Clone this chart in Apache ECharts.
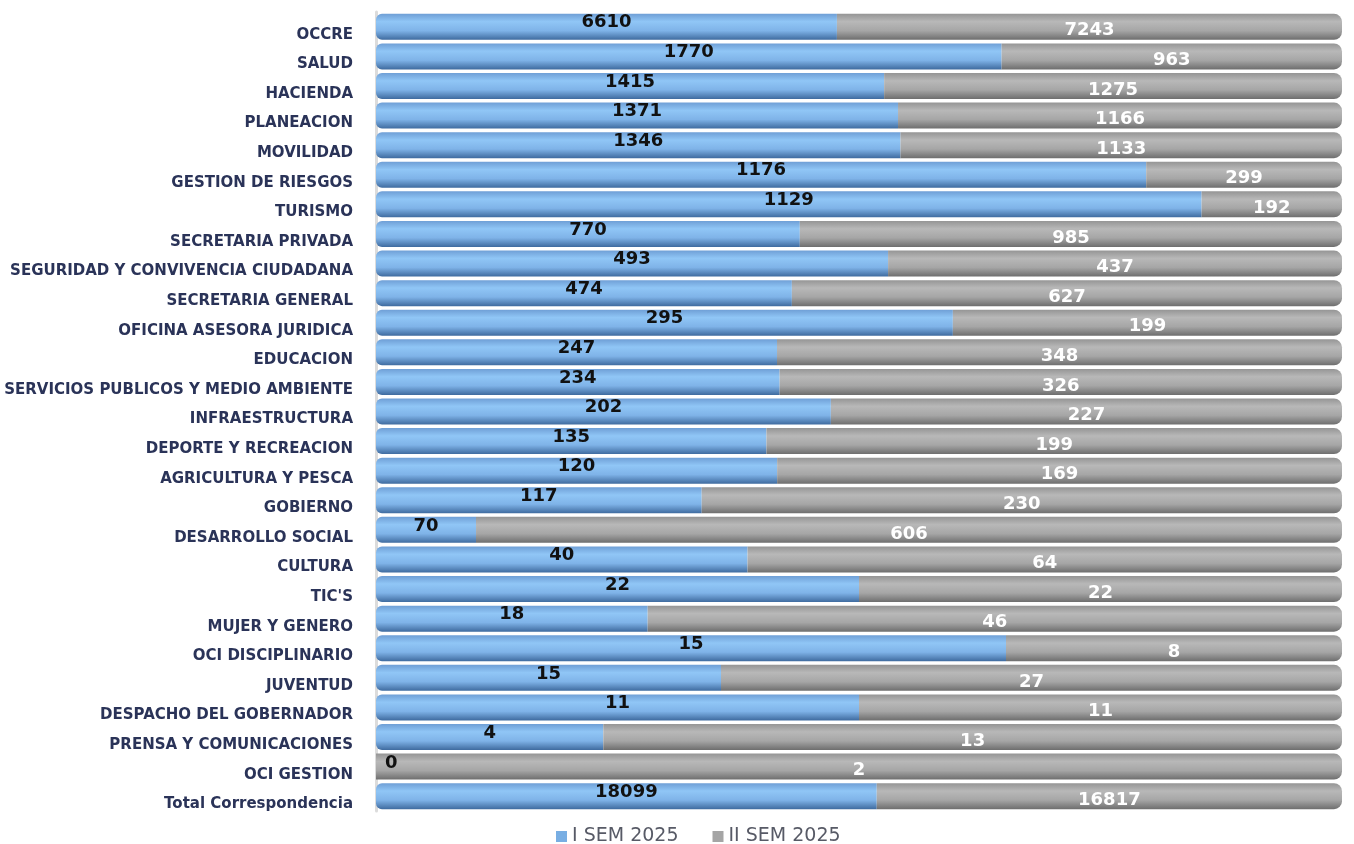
<!DOCTYPE html>
<html>
<head>
<meta charset="utf-8">
<script src="https://cdn.jsdelivr.net/npm/echarts@6/dist/echarts.min.js"></script>
<style>
html, body { margin: 0; padding: 0; background: #fff; }
#main { width: 1354px; height: 844px; }
</style>
</head>
<body>
<div id="main"></div>
<script>
var categories = ['OCCRE', 'SALUD', 'HACIENDA', 'PLANEACION', 'MOVILIDAD', 'GESTION DE RIESGOS', 'TURISMO',
    'SECRETARIA PRIVADA', 'SEGURIDAD Y CONVIVENCIA CIUDADANA', 'SECRETARIA GENERAL', 'OFICINA ASESORA JURIDICA',
    'EDUCACION', 'SERVICIOS PUBLICOS Y MEDIO AMBIENTE', 'INFRAESTRUCTURA', 'DEPORTE Y RECREACION',
    'AGRICULTURA Y PESCA', 'GOBIERNO', 'DESARROLLO SOCIAL', 'CULTURA', "TIC'S", 'MUJER Y GENERO',
    'OCI DISCIPLINARIO', 'JUVENTUD', 'DESPACHO DEL GOBERNADOR', 'PRENSA Y COMUNICACIONES', 'OCI GESTION',
    'Total Correspondencia'];
var sem1 = [6610, 1770, 1415, 1371, 1346, 1176, 1129, 770, 493, 474, 295, 247, 234, 202, 135, 120, 117, 70, 40, 22, 18, 15, 15, 11, 4, 0, 18099];
var sem2 = [7243, 963, 1275, 1166, 1133, 299, 192, 985, 437, 627, 199, 348, 326, 227, 199, 169, 230, 606, 64, 22, 46, 8, 27, 11, 13, 2, 16817];
var seriesNames = ['I SEM 2025', 'II SEM 2025'];

var chart = echarts.init(document.getElementById('main'));

// 100% stacked: bar lengths are shares, labels show the counts
function shares(vals, other) {
    var out = [];
    for (var i = 0; i < vals.length; i++) {
        var tot = vals[i] + other[i];
        var item = { value: tot ? vals[i] / tot * 100 : 0 };
        if (vals[i] === 0) {
            item.label = { position: 'insideLeft', offset: [4, -3] };
        }
        out.push(item);
    }
    return out;
}

function grad(top, light, mid, bottom) {
    return new echarts.graphic.LinearGradient(0, 0, 0, 1, [
        { offset: 0, color: top },
        { offset: 0.3, color: light },
        { offset: 0.65, color: mid },
        { offset: 1, color: bottom }
    ]);
}

var blue = grad('#6f9fd6', '#90c6f6', '#7fb3e8', '#3f6b9f');
var gray = grad('#959595', '#b8b8b8', '#a6a6a6', '#6e6e6e');

var option = {
    animation: false,
    textStyle: { fontFamily: '"DejaVu Sans", sans-serif' },
    grid: { left: 376, right: 12, top: 12, bottom: 33, containLabel: false },
    legend: {
        left: 551,
        top: 822,
        icon: 'rect',
        itemWidth: 11,
        itemHeight: 11,
        itemGap: 34,
        textStyle: { fontSize: 19, color: '#575a66', fontFamily: 'DejaVu Sans' },
        data: [
            { name: seriesNames[0], itemStyle: { color: '#78aee3' } },
            { name: seriesNames[1], itemStyle: { color: '#a5a5a5' } }
        ]
    },
    xAxis: {
        type: 'value', min: 0, max: 100,
        show: false
    },
    yAxis: {
        type: 'category',
        data: categories,
        inverse: true,
        offset: 3,
        axisLine: { show: true, lineStyle: { color: '#dcdcdc', width: 3 } },
        axisTick: { show: false },
        axisLabel: {
            margin: 20,
            fontSize: 15,
            fontWeight: 'bold',
            color: '#2a3358',
            fontFamily: 'DejaVu Sans',
            verticalAlign: 'top',
            lineHeight: 16
        }
    },
    series: [
        {
            name: seriesNames[0],
            type: 'bar',
            stack: 'tot',
            barWidth: 26,
            data: shares(sem1, sem2),
            itemStyle: { color: blue, borderRadius: [6, 0, 0, 6] },
            label: {
                show: true,
                position: 'inside',
                offset: [0, -4],
                fontSize: 18,
                fontWeight: 'bold',
                color: '#111',
                fontFamily: 'DejaVu Sans',
                formatter: function (p) { return sem1[p.dataIndex]; }
            }
        },
        {
            name: seriesNames[1],
            type: 'bar',
            stack: 'tot',
            barWidth: 26,
            data: shares(sem2, sem1),
            itemStyle: { color: gray, borderRadius: [0, 8, 8, 0] },
            label: {
                show: true,
                position: 'inside',
                offset: [0, 4],
                fontSize: 18,
                fontWeight: 'bold',
                color: '#fff',
                fontFamily: 'DejaVu Sans',
                formatter: function (p) { return sem2[p.dataIndex]; }
            }
        }
    ]
};

chart.setOption(option);
</script>
</body>
</html>
